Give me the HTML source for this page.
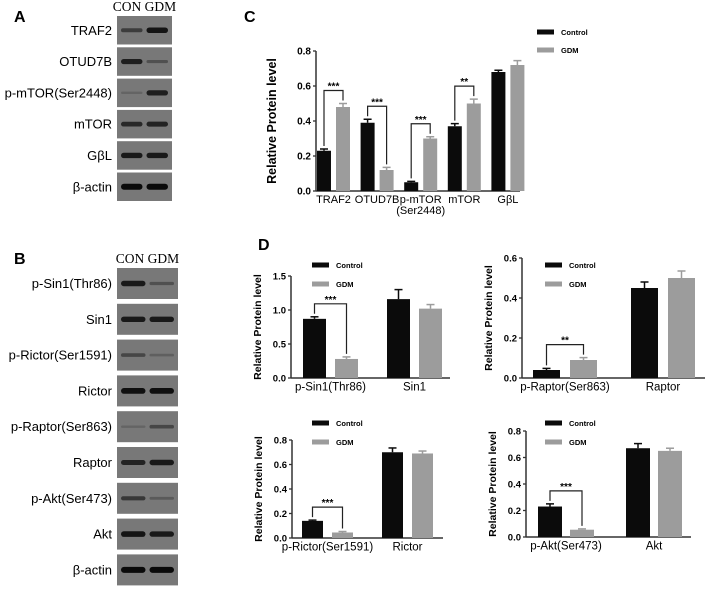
<!DOCTYPE html>
<html><head><meta charset="utf-8"><style>
body{margin:0;background:#fff;width:708px;height:587px;overflow:hidden;font-family:"Liberation Sans",Arial,sans-serif}
svg text{font-family:"Liberation Sans",Arial,sans-serif}
</style></head><body>
<svg id="fig" width="708" height="587" viewBox="0 0 708 587" xmlns="http://www.w3.org/2000/svg">
<text x="14" y="22" font-size="16" font-weight="bold">A</text>
<text x="14" y="264" font-size="16" font-weight="bold">B</text>
<text x="244" y="22" font-size="16" font-weight="bold">C</text>
<text x="258" y="250" font-size="16" font-weight="bold">D</text>
<g id="blots"></g>
<g id="charts"></g>
</svg>
<script>
// ---- data ----
const blotA = ["TRAF2","OTUD7B","p-mTOR(Ser2448)","mTOR","GβL","β-actin"];
const blotAcon = [0.5,0.8,0.1,0.7,0.85,1];
const blotAgdm = [0.9,0.3,0.8,0.75,0.85,1];
const blotB = ["p-Sin1(Thr86)","Sin1","p-Rictor(Ser1591)","Rictor","p-Raptor(Ser863)","Raptor","p-Akt(Ser473)","Akt","β-actin"];
const blotBcon = [0.85,0.85,0.4,0.95,0.1,0.75,0.55,0.9,1];
const blotBgdm = [0.3,0.85,0.15,0.95,0.4,0.85,0.2,0.85,1];

const cCats = ["TRAF2","OTUD7B","p-mTOR|(Ser2448)","mTOR","GβL"];
const cCtrl = [0.23,0.39,0.05,0.37,0.68];
const cGdm = [0.48,0.12,0.30,0.50,0.72];
const cCtrlErr = [0.01,0.02,0.005,0.015,0.01];
const cGdmErr = [0.02,0.015,0.01,0.025,0.025];
const cSig = ["***","***","***","**",""];
const cTicks = [0,0.2,0.4,0.6,0.8];

const d1Cats = ["p-Sin1(Thr86)","Sin1"];
const d1Ctrl = [0.87,1.16];
const d1Gdm = [0.28,1.02];
const d1CtrlErr = [0.03,0.14];
const d1GdmErr = [0.03,0.06];
const d1Sig = ["***",""];
const d1Ticks = [0,0.5,1.0,1.5];

const d2Cats = ["p-Raptor(Ser863)","Raptor"];
const d2Ctrl = [0.04,0.45];
const d2Gdm = [0.09,0.50];
const d2CtrlErr = [0.008,0.03];
const d2GdmErr = [0.012,0.035];
const d2Sig = ["**",""];
const d2Ticks = [0,0.2,0.4,0.6];

const d3Cats = ["p-Rictor(Ser1591)","Rictor"];
const d3Ctrl = [0.14,0.70];
const d3Gdm = [0.045,0.69];
const d3CtrlErr = [0.006,0.035];
const d3GdmErr = [0.008,0.02];
const d3Sig = ["***",""];
const d3Ticks = [0,0.2,0.4,0.6,0.8];

const d4Cats = ["p-Akt(Ser473)","Akt"];
const d4Ctrl = [0.23,0.67];
const d4Gdm = [0.055,0.65];
const d4CtrlErr = [0.02,0.035];
const d4GdmErr = [0.006,0.02];
const d4Sig = ["***",""];
const d4Ticks = [0,0.2,0.4,0.6,0.8];

const NS="http://www.w3.org/2000/svg";
function mk(parent,tag,attrs,txt){const e=document.createElementNS(NS,tag);for(const k in attrs)e.setAttribute(k,attrs[k]);if(txt!==undefined)e.textContent=txt;parent.appendChild(e);return e;}

// ---- blots ----
const bl=document.getElementById('blots');
function drawBlot(names,con,gdm,x,w,top,pitch,h,hdrY,pref){
  let t=mk(bl,'text',{x:x+w/2,y:hdrY,'font-size':'13.5','text-anchor':'middle','style':'font-family:"Liberation Serif",serif'},'CON  GDM');
  
  
  names.forEach((n,i)=>{
    const y=top+i*pitch;
    let lb=mk(bl,'text',{x:x-5,y:y+h/2+4.5,'font-size':'13','text-anchor':'end'},n);
    
    
    let r=mk(bl,'rect',{x:x,y:y,width:w,height:h,fill:'#787878'});
    
    
    [[con[i],x+4],[gdm[i],x+w/2+2]].forEach(([v,bx])=>{
      const g=Math.round(110-v*100);
      const bh=2+v*4;
      let b=mk(bl,'rect',{x:bx,y:y+h/2-bh/2,width:w/2-6,height:bh,rx:bh/2,fill:`rgb(${g},${g},${g})`});
      
      
    });
  });
}
drawBlot(blotA,blotAcon,blotAgdm,117,55,16,31.3,28.5,11,'blot-a');
drawBlot(blotB,blotBcon,blotBgdm,117,61,268,35.8,31,263,'blot-b');

// ---- charts ----
const ch=document.getElementById('charts');
function chart(o){
  const g=mk(ch,'g',{});
  
  
  const ys=v=>o.y0-(v/o.max)*(o.y0-o.yTop);
  mk(g,'line',{x1:o.ax,y1:o.yTop,x2:o.ax,y2:o.y0,stroke:'#333','stroke-width':1.5});
  mk(g,'line',{x1:o.ax,y1:o.y0,x2:o.ax1,y2:o.y0,stroke:'#333','stroke-width':1.5});
  o.ticks.forEach(t=>{
    mk(g,'line',{x1:o.ax-3,y1:ys(t),x2:o.ax,y2:ys(t),stroke:'#333','stroke-width':1.3});
    let tl=mk(g,'text',{x:o.ax-5,y:ys(t)+3.5,'font-size':o.tf,'font-weight':'bold','text-anchor':'end'},t.toFixed(1));
    
    
  });
  let yt=mk(g,'text',{x:0,y:0,'font-size':o.ttf,'font-weight':'bold','text-anchor':'middle',transform:`translate(${o.ax-o.titleOff},${(o.y0+o.yTop)/2}) rotate(-90)`},'Relative Protein level');
  
  
  o.cats.forEach((c,i)=>{
    const x=o.gx+i*o.step;
    const bars=[[o.ctrl[i],o.ce[i],x,'#0b0b0b'],[o.gdm[i],o.ge[i],x+o.off,'#9c9c9c']];
    bars.forEach(([v,e,bx,col],j)=>{
      const yv=ys(v);
      let r=mk(g,'rect',{x:bx,y:yv,width:o.bw,height:o.y0-yv,fill:col});
      
      
      const ye=ys(v+e);
      mk(g,'line',{x1:bx+o.bw/2,y1:yv,x2:bx+o.bw/2,y2:ye,stroke:col,'stroke-width':1.5});
      mk(g,'line',{x1:bx+o.bw/2-4,y1:ye,x2:bx+o.bw/2+4,y2:ye,stroke:col,'stroke-width':1.5});
    });
    const lines=c.split('|');
    lines.forEach((l,k)=>{
      let t=mk(g,'text',{x:x+(o.off+o.bw)/2,y:o.y0+o.lf+1+k*o.lf,'font-size':o.lf,'text-anchor':'middle'},l);
      
      
    });
    if(o.sig[i]){
      const x1=x+o.bw/2,x2=x+o.off+o.bw/2;
      const t1=ys(o.ctrl[i]+o.ce[i])-3,t2=ys(o.gdm[i]+o.ge[i])-3;
      const by=Math.min(t1,t2)-10;
      mk(g,'polyline',{points:`${x1},${t1} ${x1},${by} ${x2},${by} ${x2},${t2}`,fill:'none',stroke:'#222','stroke-width':1.2});
      let s=mk(g,'text',{x:(x1+x2)/2,y:by-1,'font-size':10,'font-weight':'bold','text-anchor':'middle'},o.sig[i]);
      
      
    }
  });
  [['Control','#0b0b0b',0],['GDM','#9c9c9c',1]].forEach(([n,col,k])=>{
    const ly=o.ly+k*o.lstep;
    let sw=mk(g,'rect',{x:o.lx,y:ly-2.5,width:17,height:5,fill:col});
    
    
    let lt=mk(g,'text',{x:o.lx+24,y:ly+3,'font-size':7.5,'font-weight':'bold'},n);
    
    
  });
}
chart({name:'chart-c',ax:316,ax1:520,y0:191,yTop:51,max:0.8,ticks:cTicks,cats:cCats,ctrl:cCtrl,gdm:cGdm,ce:cCtrlErr,ge:cGdmErr,sig:cSig,
  gx:317,step:43.6,bw:14,off:19,tf:10,ttf:12.5,lf:11,titleOff:40,lx:537,ly:32,lstep:18});
chart({name:'chart-d-sin1',ax:291,ax1:450,y0:378,yTop:276,max:1.5,ticks:d1Ticks,cats:d1Cats,ctrl:d1Ctrl,gdm:d1Gdm,ce:d1CtrlErr,ge:d1GdmErr,sig:d1Sig,
  gx:303,step:84,bw:23,off:32,tf:9.5,ttf:10.5,lf:11.5,titleOff:30,lx:312,ly:265,lstep:19});
chart({name:'chart-d-raptor',ax:522,ax1:705,y0:378,yTop:258,max:0.6,ticks:d2Ticks,cats:d2Cats,ctrl:d2Ctrl,gdm:d2Gdm,ce:d2CtrlErr,ge:d2GdmErr,sig:d2Sig,
  gx:533,step:98,bw:27,off:37,tf:9.5,ttf:10.5,lf:11.5,titleOff:30,lx:545,ly:265,lstep:19});
chart({name:'chart-d-rictor',ax:292,ax1:443,y0:538,yTop:440,max:0.8,ticks:d3Ticks,cats:d3Cats,ctrl:d3Ctrl,gdm:d3Gdm,ce:d3CtrlErr,ge:d3GdmErr,sig:d3Sig,
  gx:302,step:80,bw:21,off:30,tf:9.5,ttf:10.5,lf:11.5,titleOff:30,lx:312,ly:423,lstep:19});
chart({name:'chart-d-akt',ax:526,ax1:691,y0:537,yTop:431,max:0.8,ticks:d4Ticks,cats:d4Cats,ctrl:d4Ctrl,gdm:d4Gdm,ce:d4CtrlErr,ge:d4GdmErr,sig:d4Sig,
  gx:538,step:88,bw:24,off:32,tf:9.5,ttf:10.5,lf:11.5,titleOff:30,lx:545,ly:423,lstep:19});
</script>
</body></html>
